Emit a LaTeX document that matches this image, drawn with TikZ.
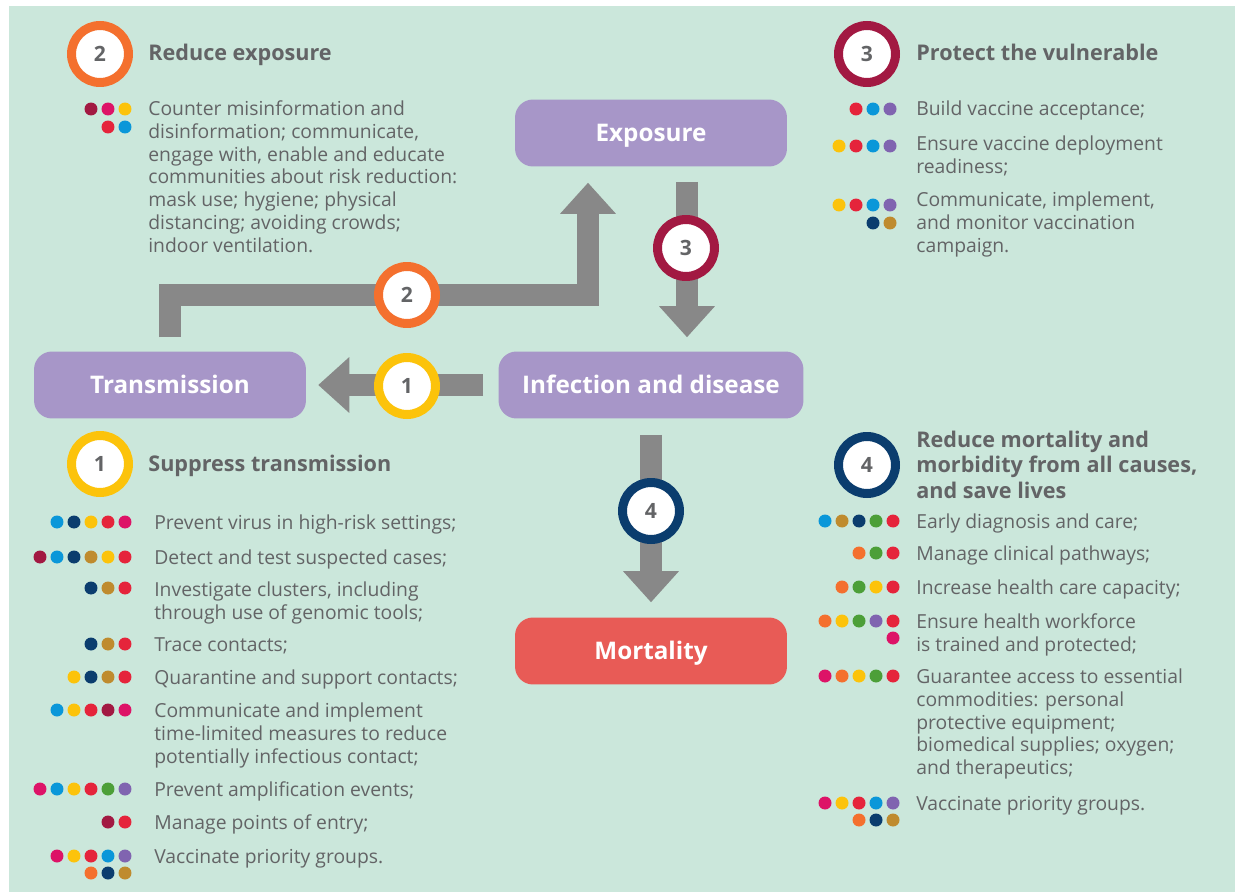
\documentclass[tikz,border=0pt]{standalone}
\usepackage{fontspec}
\setmainfont{Open Sans}
\usetikzlibrary{arrows.meta,calc}

\definecolor{mint}{HTML}{CBE7DB}
\definecolor{ink}{HTML}{636466}
\definecolor{lilac}{HTML}{A796C8}
\definecolor{boxred}{HTML}{E85B56}
\definecolor{shaft}{HTML}{888888}
\definecolor{sred}{HTML}{E5243B}
\definecolor{syellow}{HTML}{FCC30B}
\definecolor{sgreen}{HTML}{4C9F38}
\definecolor{sblue}{HTML}{0A97D9}
\definecolor{snavy}{HTML}{0B3D6E}
\definecolor{sgold}{HTML}{BF8B2E}
\definecolor{smaroon}{HTML}{A21942}
\definecolor{smagenta}{HTML}{DD1367}
\definecolor{sorange}{HTML}{F4702E}
\definecolor{spurple}{HTML}{8064B0}

\newcommand{\bodyfont}{\fontsize{11}{13}\selectfont}
\newcommand{\headfont}{\bfseries\fontsize{12.3}{14.5}\selectfont}
\newcommand{\boxfont}{\bfseries\fontsize{13.8}{16}\selectfont}
\newcommand{\numfont}{\bfseries\fontsize{12}{14}\selectfont}
% a row of coloured dots, from the left
\newcommand{\sdgrow}[3]{%
  \foreach \c [count=\i from 0] in {#3} {\fill[\c] ({#1+17*\i},#2) circle (0.13cm);}}

\begin{document}
\begin{tikzpicture}[
  x=0.02cm, y=-0.02cm,
  stage/.style={rounded corners=0.36cm, fill=lilac, text=white, font=\boxfont,
    minimum width=5.44cm, minimum height=1.34cm, text height=9.9pt, text depth=0pt},
  ring/.style={circle, draw=#1, line width=0.18cm, fill=white, minimum size=1.14cm,
    inner sep=0pt, text=ink, font=\numfont},
  bigarrow/.style={draw=shaft, line width=0.44cm,
    -{Triangle[width=1.12cm, length=0.62cm, line width=0pt]}},
  head/.style={anchor=base west, inner sep=0pt, text=ink, font=\headfont},
  item/.style={anchor=north west, inner sep=0pt, align=left, text=ink, font=\bodyfont}
  ]

\useasboundingbox (0,0) rectangle (1235,892);
\fill[white] (0,0) rectangle (1235,892);
\fill[mint] (9,6) rectangle (1235,892);

% stages

\node [stage] (expo) at (651,133) {Exposure};
\node [stage] (trans) at (170,385) {Transmission};
\node [stage, minimum width=6.1cm] (infect) at (651,385) {Infection and disease};
\node [stage, fill=boxred] (mort) at (651,651) {Mortality};

% arrows

\coordinate (a2m) at (407,295);
\draw [bigarrow] ($(trans.north)+(0,-14)$) |- (a2m) -| ($(expo.south)+(-63,16)$);
\draw [bigarrow] ($(expo.south)+(36,15)$) -- ($(infect.north)+(36,-14)$);
\draw [bigarrow] ($(infect.west)+(-15,0)$) -- ($(trans.east)+(12,0)$);
\draw [bigarrow] ($(infect.south)+(0,16)$) -- ($(mort.north)+(0,-15)$);

\node [ring=syellow] (m1) at (407,386) {1};
\node [ring=sorange] (m2) at (a2m) {2};
\node [ring=smaroon] (m3) at (686,248) {3};
\node [ring=snavy] (m4) at (651,511) {4};

% 2: reduce exposure

\node [ring=sorange] (h2) at (100,54) {2};
\node [head] at (148,61) {Reduce exposure};
\sdgrow{91}{109}{smaroon,smagenta,syellow}
\sdgrow{108}{127}{sred,sblue}
\node [item] at (148,99) {\strut Counter misinformation and\\
  disinformation; communicate,\\ engage with, enable and educate\\
  communities about risk reduction:\\ mask use; hygiene; physical\\
  distancing; avoiding crowds;\\ indoor ventilation.};

% 3: protect the vulnerable

\node [ring=smaroon] (h3) at (867,54) {3};
\node [head] at (916,61) {Protect the vulnerable};
\sdgrow{856}{109}{sred,sblue,spurple}
\node [item] at (916,99) {\strut Build vaccine acceptance;};
\sdgrow{839}{146}{syellow,sred,sblue,spurple}
\node [item] at (916,134) {\strut Ensure vaccine deployment\\ readiness;};
\sdgrow{839}{205}{syellow,sred,sblue,spurple}
\sdgrow{873}{223}{snavy,sgold}
\node [item] at (916,190) {\strut Communicate, implement,\\ and monitor vaccination\\ campaign.};

% 1: suppress transmission

\node [ring=syellow] (h1) at (100,464) {1};
\node [head] at (148,471) {Suppress transmission};
\sdgrow{57}{522}{sblue,snavy,syellow,sred,smagenta}
\node [item] at (154,513) {\strut Prevent virus in high-risk settings;};
\sdgrow{40}{557}{smaroon,sblue,snavy,sgold,syellow,sred}
\node [item] at (154,548) {\strut Detect and test suspected cases;};
\sdgrow{91}{588}{snavy,sgold,sred}
\node [item] at (154,580) {\strut Investigate clusters, including\\ through use of genomic tools;};
\sdgrow{91}{644}{snavy,sgold,sred}
\node [item] at (154,635) {\strut Trace contacts;};
\sdgrow{74}{677}{syellow,snavy,sgold,sred}
\node [item] at (154,668) {\strut Quarantine and support contacts;};
\sdgrow{57}{710}{sblue,syellow,sred,smaroon,smagenta}
\node [item] at (154,701) {\strut Communicate and implement\\ time-limited measures to reduce\\
  potentially infectious contact;};
\sdgrow{40}{789}{smagenta,sblue,syellow,sred,sgreen,spurple}
\node [item] at (154,780) {\strut Prevent amplification events;};
\sdgrow{108}{822}{smaroon,sred}
\node [item] at (154,813) {\strut Manage points of entry;};
\sdgrow{57}{856}{smagenta,syellow,sred,sblue,spurple}
\sdgrow{91}{873}{sorange,snavy,sgold}
\node [item] at (154,847) {\strut Vaccinate priority groups.};

% 4: reduce mortality

\node [ring=snavy] (h4) at (867,465) {4};
\node [head, anchor=north west, align=left] at (916,429) {\strut Reduce mortality and\\
  morbidity from all causes,\\ and save lives};
\sdgrow{825}{521}{sblue,sgold,snavy,sgreen,sred}
\node [item] at (916,512) {\strut Early diagnosis and care;};
\sdgrow{859}{553}{sorange,sgreen,sred}
\node [item] at (916,544) {\strut Manage clinical pathways;};
\sdgrow{842}{587}{sorange,sgreen,syellow,sred}
\node [item] at (916,578) {\strut Increase health care capacity;};
\sdgrow{825}{621}{sorange,syellow,sgreen,spurple,sred}
\sdgrow{893}{638}{smagenta}
\node [item] at (916,612) {\strut Ensure health workforce\\ is trained and protected;};
\sdgrow{825}{676}{smagenta,sorange,syellow,sgreen,sred}
\node [item] at (916,667) {\strut Guarantee access to essential\\ commodities: personal\\
  protective equipment;\\ biomedical supplies; oxygen;\\ and therapeutics;};
\sdgrow{825}{803}{smagenta,syellow,sred,sblue,spurple}
\sdgrow{859}{820}{sorange,snavy,sgold}
\node [item] at (916,794) {\strut Vaccinate priority groups.};

\end{tikzpicture}
\end{document}
